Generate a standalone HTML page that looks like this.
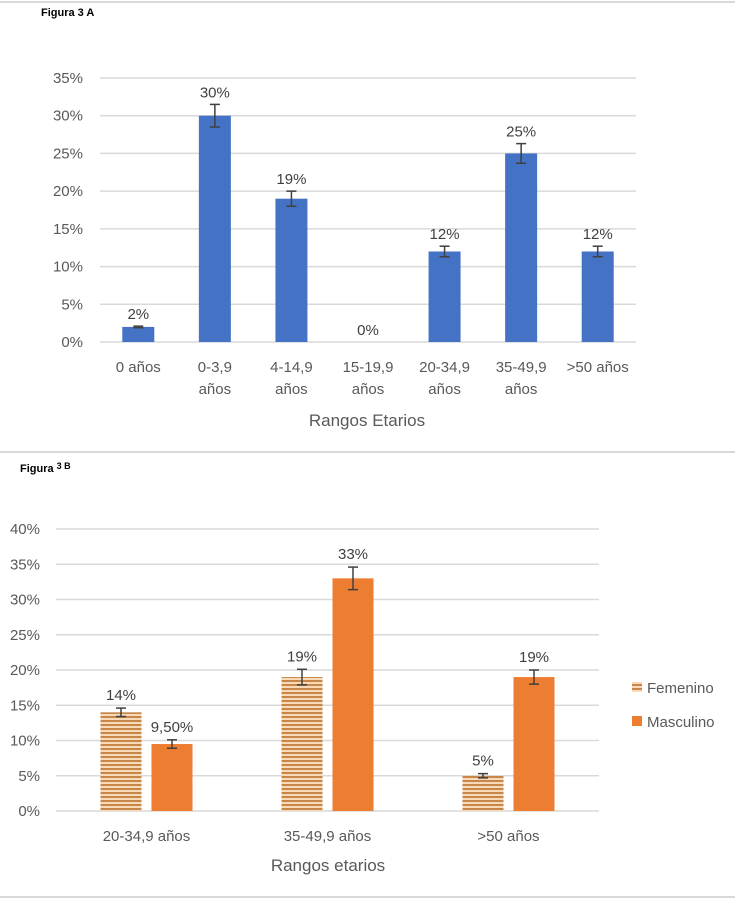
<!DOCTYPE html>
<html><head><meta charset="utf-8"><style>
body{margin:0;background:#fff;width:735px;height:905px;overflow:hidden;font-family:"Liberation Sans",sans-serif}
svg text{font-family:"Liberation Sans",sans-serif}
</style></head><body>
<svg id="s" width="735" height="905">
<defs><pattern id="hz" width="4" height="4" patternUnits="userSpaceOnUse"><rect width="4" height="4" fill="#f8d9b8"/><rect width="4" height="2" fill="#c8874a"/></pattern></defs>
<line x1="0" y1="2" x2="735" y2="2" stroke="#d9d9d9" stroke-width="2"/>
<line x1="0" y1="452" x2="735" y2="452" stroke="#d9d9d9" stroke-width="2"/>
<line x1="0" y1="897" x2="735" y2="897" stroke="#d9d9d9" stroke-width="2"/>
<text x="41" y="16" font-size="11" font-weight="bold">Figura 3 A</text>
<text x="20" y="472" font-size="11" font-weight="bold">Figura <tspan font-size="9" dy="-3">3 B</tspan></text>
<g id="ga"></g><g id="gb"></g>
</svg>
<script>
const catsA=["0 años","0-3,9|años","4-14,9|años","15-19,9|años","20-34,9|años","35-49,9|años",">50 años"];
const valsA=[2,30,19,0,12,25,12];
const errA=[0.1,1.5,1,0,0.7,1.3,0.7];
const ticksA=[0,5,10,15,20,25,30,35];
const catsB=["20-34,9 años","35-49,9 años",">50 años"];
const femB=[14,19,5];
const mascB=[9.5,33,19];
const femErr=[0.6,1.1,0.3];
const mascErr=[0.6,1.6,1];
const femLbl=["14%","19%","5%"];
const mascLbl=["9,50%","33%","19%"];
const ticksB=[0,5,10,15,20,25,30,35,40];
const NS="http://www.w3.org/2000/svg";
function mk(p,t,a,txt){const e=document.createElementNS(NS,t);for(const k in a)e.setAttribute(k,a[k]);if(txt!==undefined)e.textContent=txt;p.appendChild(e);return e;}
function errbar(g,x,y1,y2){mk(g,'line',{x1:x,x2:x,y1:y1,y2:y2,stroke:'#404040','stroke-width':1.5});mk(g,'line',{x1:x-5,x2:x+5,y1:y1,y2:y1,stroke:'#404040','stroke-width':1.5});mk(g,'line',{x1:x-5,x2:x+5,y1:y2,y2:y2,stroke:'#404040','stroke-width':1.5});}
// Chart A
const ga=document.getElementById('ga');
const ax0=100,ax1=636,ay0=342,ay35=78;
const yA=v=>ay0-(ay0-ay35)*v/35;
const bwA=(ax1-ax0)/catsA.length;
ticksA.forEach(t=>{
 const l=mk(ga,'line',{x1:ax0,x2:ax1,y1:yA(t),y2:yA(t),stroke:'#d9d9d9','stroke-width':1.5});
 
 
 const tx=mk(ga,'text',{x:83,y:yA(t)+5,'text-anchor':'end','font-size':15,fill:'#595959'},t+'%');
 
 
});
catsA.forEach((c,i)=>{
 const cx=ax0+bwA*(i+0.5),v=valsA[i];
 if(v>0){const r=mk(ga,'rect',{x:cx-16,y:yA(v),width:32,height:ay0-yA(v),fill:'#4472c4'});
 
 
 errbar(ga,cx,yA(v+errA[i]),yA(v-errA[i]));}
 const lt=mk(ga,'text',{x:cx,y:yA(v+errA[i])-7,'text-anchor':'middle','font-size':15,fill:'#404040'},v+'%');
 
 
 c.split('|').forEach((p,j)=>{const t=mk(ga,'text',{x:cx,y:372+j*22,'text-anchor':'middle','font-size':15,fill:'#595959'},p);
 
 });
});
const xa=mk(ga,'text',{x:367,y:426,'text-anchor':'middle','font-size':17,fill:'#595959'},'Rangos Etarios');


// Chart B
const gb=document.getElementById('gb');
const bx0=56,bx1=599,by0=811,by40=529;
const yB=v=>by0-(by0-by40)*v/40;
const gwB=(bx1-bx0)/catsB.length;
ticksB.forEach(t=>{
 const l=mk(gb,'line',{x1:bx0,x2:bx1,y1:yB(t),y2:yB(t),stroke:'#d9d9d9','stroke-width':1.5});
 
 
 const tx=mk(gb,'text',{x:40,y:yB(t)+5,'text-anchor':'end','font-size':15,fill:'#595959'},t+'%');
 
 
});
catsB.forEach((c,i)=>{
 const gc=bx0+gwB*(i+0.5);
 [[femB,femErr,femLbl,'url(#hz)',-25.5,'bar-femenino'],[mascB,mascErr,mascLbl,'#ed7d31',25.5,'bar-masculino']].forEach(([vals,errs,lbls,fill,off,nm])=>{
  const cx=gc+off,v=vals[i];
  const r=mk(gb,'rect',{x:cx-20.5,y:yB(v),width:41,height:by0-yB(v),fill:fill});
  
  
  errbar(gb,cx,yB(v+errs[i]),yB(v-errs[i]));
  const lt=mk(gb,'text',{x:cx,y:yB(v+errs[i])-8,'text-anchor':'middle','font-size':15,fill:'#404040'},lbls[i]);
  
  
 });
 const t=mk(gb,'text',{x:gc,y:841,'text-anchor':'middle','font-size':15,fill:'#595959'},c);
 
 
});
const xb=mk(gb,'text',{x:328,y:871,'text-anchor':'middle','font-size':17,fill:'#595959'},'Rangos etarios');


const l1=mk(gb,'rect',{x:632,y:682,width:10,height:10,fill:'url(#hz)'});


const l1t=mk(gb,'text',{x:647,y:693,'font-size':15,fill:'#595959'},'Femenino');


const l2=mk(gb,'rect',{x:632,y:716,width:10,height:10,fill:'#ed7d31'});


const l2t=mk(gb,'text',{x:647,y:727,'font-size':15,fill:'#595959'},'Masculino');


</script>
</body></html>
